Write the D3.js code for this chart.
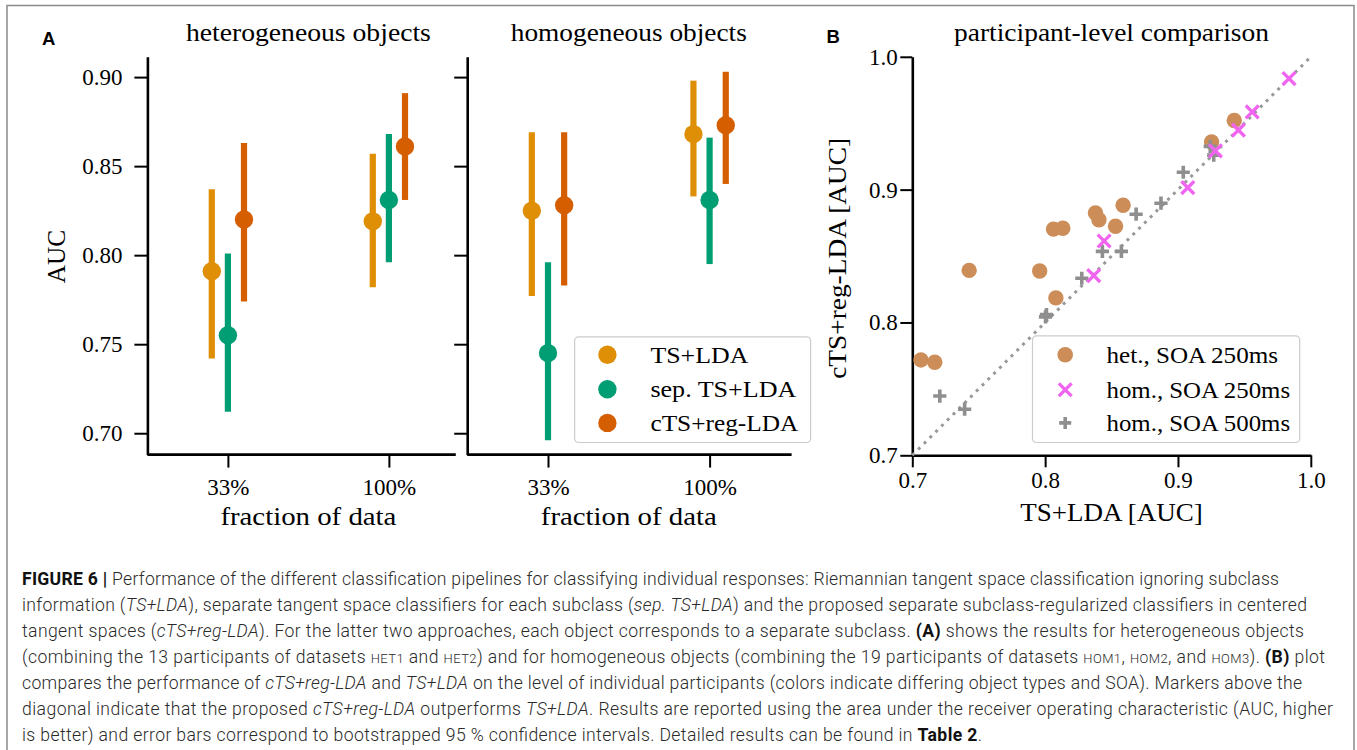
<!DOCTYPE html>
<html><head><meta charset="utf-8">
<script src="https://cdn.jsdelivr.net/npm/d3@7"></script>
<style>body{margin:0;background:#fff} svg{display:block} text{white-space:pre}</style>
</head><body>
<script>
// ---------- data ----------
const fractions = ["33%", "100%"];
const pipelines = ["TS+LDA", "sep. TS+LDA", "cTS+reg-LDA"];
const pipelineColors = ["#de8f05", "#029e73", "#d55e00"];
// [pipeline][fraction]
const hetMean = [[0.791, 0.819], [0.755, 0.831], [0.820, 0.861]];
const hetLow  = [[0.742, 0.782], [0.712, 0.796], [0.774, 0.831]];
const hetHigh = [[0.837, 0.857], [0.801, 0.868], [0.863, 0.891]];
const homMean = [[0.825, 0.868], [0.745, 0.831], [0.828, 0.873]];
const homLow  = [[0.777, 0.833], [0.696, 0.795], [0.783, 0.840]];
const homHigh = [[0.869, 0.898], [0.796, 0.866], [0.869, 0.903]];
const aucTicks = [0.70, 0.75, 0.80, 0.85, 0.90];

const hetX = [0.7065, 0.7169, 0.7428, 0.7959, 0.8081, 0.8063, 0.8133, 0.8379, 0.8405, 0.8530, 0.8587, 0.9253, 0.9424];
const hetY = [0.7718, 0.7700, 0.8392, 0.8387, 0.8185, 0.8703, 0.8709, 0.8825, 0.8773, 0.8724, 0.8882, 0.9359, 0.9520];
const hom250X = [0.8366, 0.8444, 0.9074, 0.9282, 0.9455, 0.9559, 0.9836];
const hom250Y = [0.8353, 0.8613, 0.9015, 0.9292, 0.9448, 0.9585, 0.9836];
const hom500X = [0.7207, 0.7394, 0.8003, 0.8276, 0.8431, 0.8574, 0.8685, 0.8872, 0.9040, 0.9243, 0.9269, 0.8010];
const hom500Y = [0.7446, 0.7347, 0.8042, 0.8333, 0.8535, 0.8535, 0.8815, 0.8898, 0.9131, 0.9326, 0.9260, 0.8060];
const scatterTicks = [0.7, 0.8, 0.9, 1.0];
const scatterLegend = ["het., SOA 250ms", "hom., SOA 250ms", "hom., SOA 500ms"];
const scatterColors = ["#cc8d58", "#f064f0", "#8f8f8f"];

// ---------- setup ----------
const W = 1357, H = 750;
const serif = "'Liberation Serif', 'Times New Roman', serif";
const sans = "'Liberation Sans', Arial, sans-serif";
const svg = d3.select("body").append("svg").attr("width", W).attr("height", H);

svg.append("rect").attr("x", 7).attr("y", 5.5).attr("width", 1347).attr("height", 800)
  .attr("fill", "none").attr("stroke", "#8a8a8a").attr("stroke-width", 1.5);

function styleAxis(g) {
  g.select(".domain").attr("stroke", "#000").attr("stroke-width", 2.6);
  g.selectAll(".tick line").attr("stroke", "#000").attr("stroke-width", 2);
  g.selectAll(".tick text").attr("font-family", serif).attr("font-size", 23).attr("fill", "#000");
}
function label(x, y, txt, size, len, rot) {
  const t = svg.append("text").attr("font-family", serif).attr("font-size", size)
    .attr("text-anchor", "middle").attr("fill", "#000").text(txt);
  if (len) t.attr("textLength", len).attr("lengthAdjust", "spacingAndGlyphs");
  if (rot) t.attr("transform", `translate(${x},${y}) rotate(-90)`);
  else t.attr("x", x).attr("y", y);
  return t;
}

// ---------- Panel A ----------
const yA = d3.scaleLinear().domain([0.688, 0.9114]).range([454.6, 56.8]);
const panelsA = [
  {x0: 147.4, x1: 469.4, spineEnd: 455.8, mean: hetMean, low: hetLow, high: hetHigh, title: "heterogeneous objects", tl: 245, labels: true},
  {x0: 467.2, x1: 790.4, spineEnd: 791.6, mean: homMean, low: homLow, high: homHigh, title: "homogeneous objects", tl: 236, labels: false}
];
const dodge = [-0.1, 0, 0.1];
panelsA.forEach(p => {
  const x = d3.scaleLinear().domain([-0.5, 1.5]).range([p.x0, p.x1]);
  const gx = svg.append("g").attr("transform", `translate(0,${yA.range()[0]})`)
    .call(d3.axisBottom(x).tickValues([0, 1]).tickFormat(i => fractions[i]).tickSize(13).tickPadding(11).tickSizeOuter(0));
  styleAxis(gx);
  gx.select(".domain").attr("d", `M${p.x0},0H${p.spineEnd}`);
  const gy = svg.append("g").attr("transform", `translate(${p.x0},0)`)
    .call(d3.axisLeft(yA).tickValues(aucTicks).tickFormat(p.labels ? d3.format(".2f") : () => "").tickSize(13).tickPadding(12).tickSizeOuter(0));
  styleAxis(gy);
  const g = svg.append("g");
  pipelines.forEach((name, k) => {
    fractions.forEach((f, i) => {
      const cx = x(i + dodge[k]);
      g.append("line").attr("x1", cx).attr("x2", cx)
        .attr("y1", yA(p.low[k][i])).attr("y2", yA(p.high[k][i]))
        .attr("stroke", pipelineColors[k]).attr("stroke-width", 6.2);
      g.append("circle").attr("cx", cx).attr("cy", yA(p.mean[k][i])).attr("r", 9.2)
        .attr("fill", pipelineColors[k]);
    });
  });
  label((p.x0 + p.x1) / 2, 41.3, p.title, 26, p.tl);
  label((p.x0 + p.x1) / 2, 525, "fraction of data", 25, 176);
});
label(65, 256.6, "AUC", 25, 53.4, true);

// legend A
const legA = svg.append("g");
legA.append("rect").attr("x", 574.6).attr("y", 336.8).attr("width", 236).attr("height", 105.7).attr("rx", 4)
  .attr("fill", "#fff").attr("fill-opacity", 0.8).attr("stroke", "#cccccc").attr("stroke-width", 1.2);
const legARows = [354.7, 389.2, 422.9];
const legALen = [98, 146, 148];
pipelines.forEach((name, k) => {
  legA.append("circle").attr("cx", 607.4).attr("cy", legARows[k]).attr("r", 9.2).attr("fill", pipelineColors[k]);
  legA.append("text").attr("x", 650.4).attr("y", legARows[k] + 7.8).attr("font-family", serif).attr("font-size", 24)
    .attr("textLength", legALen[k]).attr("lengthAdjust", "spacingAndGlyphs").text(name);
});

// ---------- Panel B ----------
const xB = d3.scaleLinear().domain([0.7, 1.0]).range([912.3, 1310.8]);
const yB = d3.scaleLinear().domain([0.7, 1.0]).range([455.3, 56.8]);
const gbx = svg.append("g").attr("transform", `translate(0,${yB.range()[0]})`)
  .call(d3.axisBottom(xB).tickValues(scatterTicks).tickFormat(d3.format(".1f")).tickSize(12).tickPadding(4.5).tickSizeOuter(0));
styleAxis(gbx);
const gby = svg.append("g").attr("transform", `translate(${xB.range()[0]},0)`)
  .call(d3.axisLeft(yB).tickValues(scatterTicks).tickFormat(d3.format(".1f")).tickSize(12).tickPadding(2.5).tickSizeOuter(0));
styleAxis(gby);

svg.append("line").attr("x1", xB(0.7)).attr("y1", yB(0.7)).attr("x2", xB(1.0)).attr("y2", yB(1.0))
  .attr("stroke", "#999").attr("stroke-width", 3).attr("stroke-dasharray", "3,5.2");

function drawCircle(g, cx, cy, r, c) { g.append("circle").attr("cx", cx).attr("cy", cy).attr("r", r).attr("fill", c); }
function drawX(g, cx, cy, s, c) {
  g.append("path").attr("d", `M${cx - s},${cy - s}L${cx + s},${cy + s}M${cx - s},${cy + s}L${cx + s},${cy - s}`)
    .attr("stroke", c).attr("stroke-width", 3.3).attr("fill", "none");
}
function drawPlus(g, cx, cy, s, c) {
  g.append("path").attr("d", `M${cx - s},${cy}L${cx + s},${cy}M${cx},${cy - s}L${cx},${cy + s}`)
    .attr("stroke", c).attr("stroke-width", 3.6).attr("fill", "none");
}
const gs = svg.append("g");
hetX.forEach((v, i) => drawCircle(gs, xB(v), yB(hetY[i]), 7.7, scatterColors[0]));
hom500X.forEach((v, i) => drawPlus(gs, xB(v), yB(hom500Y[i]), 6.6, scatterColors[2]));
hom250X.forEach((v, i) => drawX(gs, xB(v), yB(hom250Y[i]), 6.4, scatterColors[1]));

label(1111.5, 41.3, "participant-level comparison", 26, 315);
label(1111.5, 521, "TS+LDA [AUC]", 25, 182.5);
label(846, 258.3, "cTS+reg-LDA [AUC]", 25.5, 241, true);

// legend B
const legB = svg.append("g");
legB.append("rect").attr("x", 1032.5).attr("y", 335.8).attr("width", 267.2).attr("height", 106.7).attr("rx", 4)
  .attr("fill", "#fff").attr("fill-opacity", 0.8).attr("stroke", "#cccccc").attr("stroke-width", 1.2);
const legBRows = [354.7, 389.8, 422.9];
const legBLen = [171.5, 183.6, 183.6];
drawCircle(legB, 1065.2, legBRows[0], 7.8, scatterColors[0]);
drawX(legB, 1065.2, legBRows[1], 6.4, scatterColors[1]);
drawPlus(legB, 1065.2, legBRows[2], 6, scatterColors[2]);
scatterLegend.forEach((name, k) => {
  legB.append("text").attr("x", 1106.5).attr("y", legBRows[k] + 7.8).attr("font-family", serif).attr("font-size", 24)
    .attr("textLength", legBLen[k]).attr("lengthAdjust", "spacingAndGlyphs").text(name);
});

// panel letters
svg.append("text").attr("x", 42).attr("y", 44.5).attr("font-family", sans).attr("font-weight", "bold").attr("font-size", 18.5).text("A");
svg.append("text").attr("x", 826.5).attr("y", 43).attr("font-family", sans).attr("font-weight", "bold").attr("font-size", 18.5).text("B");

// ---------- caption ----------
const captionLines = [
  [["FIGURE 6 | ", "b"], ["Performance of the different classification pipelines for classifying individual responses: Riemannian tangent space classification ignoring subclass", ""]],
  [["information (", ""], ["TS+LDA", "i"], ["), separate tangent space classifiers for each subclass (", ""], ["sep. TS+LDA", "i"], [") and the proposed separate subclass-regularized classifiers in centered", ""]],
  [["tangent spaces (", ""], ["cTS+reg-LDA", "i"], ["). For the latter two approaches, each object corresponds to a separate subclass. ", ""], ["(A)", "b"], [" shows the results for heterogeneous objects", ""]],
  [["(combining the 13 participants of datasets ", ""], ["HET1", "sc"], [" and ", ""], ["HET2", "sc"], [") and for homogeneous objects (combining the 19 participants of datasets ", ""], ["HOM1", "sc"], [", ", ""], ["HOM2", "sc"], [", and ", ""], ["HOM3", "sc"], ["). ", ""], ["(B)", "b"], [" plot", ""]],
  [["compares the performance of ", ""], ["cTS+reg-LDA", "i"], [" and ", ""], ["TS+LDA", "i"], [" on the level of individual participants (colors indicate differing object types and SOA). Markers above the", ""]],
  [["diagonal indicate that the proposed ", ""], ["cTS+reg-LDA", "i"], [" outperforms ", ""], ["TS+LDA", "i"], [". Results are reported using the area under the receiver operating characteristic (AUC, higher", ""]],
  [["is better) and error bars correspond to bootstrapped 95 % confidence intervals. Detailed results can be found in ", ""], ["Table 2", "b"], [".", ""]]
];
const captionWidths = [1257, 1285, 1282, 1303, 1280, 1311, 960];
const capFont = "Roboto, 'Liberation Sans', Arial, sans-serif";
captionLines.forEach((segs, li) => {
  const t = svg.append("text").attr("x", 22).attr("y", 585 + li * 26)
    .attr("font-family", capFont).attr("font-size", 17.6).attr("font-weight", 300).attr("fill", "#2a2a2a")
    .attr("textLength", captionWidths[li]).attr("lengthAdjust", "spacing");
  segs.forEach(([s, st]) => {
    const ts = t.append("tspan").text(s);
    if (st === "b") ts.attr("font-weight", 700).attr("fill", "#111");
    if (st === "i") ts.attr("font-style", "italic");
    if (st === "sc") ts.attr("font-size", 13);
  });
});
</script>
</body></html>
